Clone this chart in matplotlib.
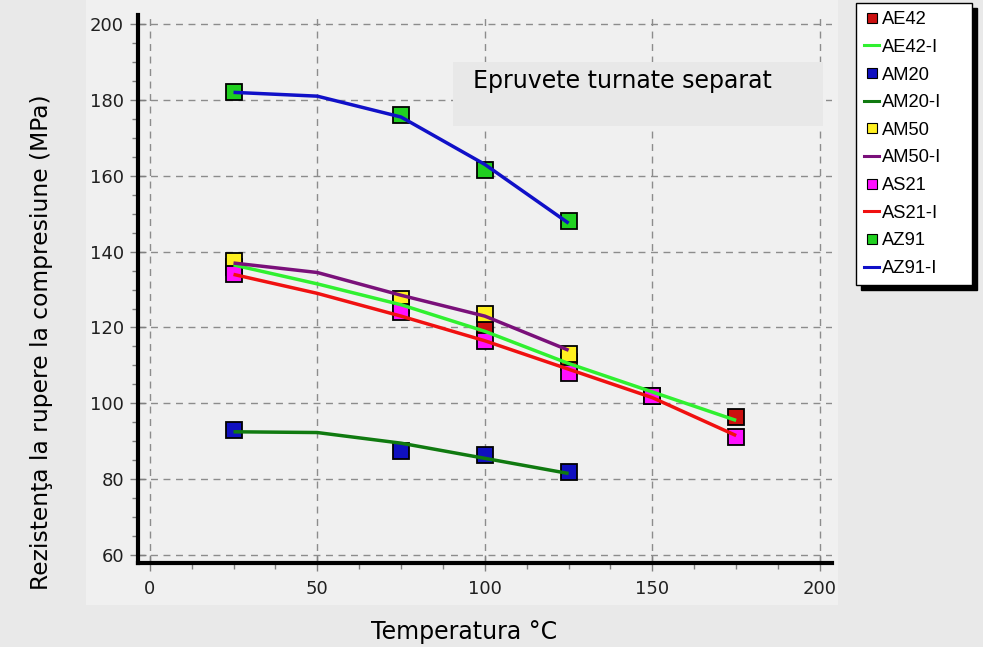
import matplotlib
matplotlib.use("Agg")
import matplotlib.pyplot as plt
from matplotlib.lines import Line2D
from matplotlib.patches import Rectangle
from matplotlib.ticker import MultipleLocator

# ---- data ----------------------------------------------------------------
temp_pts = [25, 75, 100, 125]
temp_pts_long = [25, 75, 100, 125, 150, 175]

ae42 = [136, 126, 120, 111, 102, 96.5]
am20 = [93, 87.5, 86.5, 82]
am50 = [137.5, 127.5, 123.5, 113]
as21 = [134, 124, 116.5, 108, 102, 91]
az91 = [182, 176, 161.5, 148]

temp_fit = [25, 50, 75, 100, 125]
temp_fit_long = [25, 50, 75, 100, 125, 150, 175]
ae42_i = [136.5, 131.5, 126, 119, 110.5, 103, 95.5]
am20_i = [92.5, 92.3, 89.5, 85.5, 81.5]
am50_i = [137, 134.5, 128.5, 123, 114]
as21_i = [134, 129, 123, 116.5, 109, 101.5, 91.5]
az91_i = [182, 181, 175.5, 163, 147.5]

x_ticks = [0, 50, 100, 150, 200]
y_ticks = [60, 80, 100, 120, 140, 160, 180, 200]

# ---- figure ---------------------------------------------------------------
fig = plt.figure(figsize=(9.83, 6.47), dpi=100, facecolor="#E9E9E9")
fig.patches.append(Rectangle((86 / 983, 1 - 605 / 647), (838 - 86) / 983, 605 / 647,
                             transform=fig.transFigure, facecolor="#F0F0F0",
                             edgecolor="none", zorder=-2))

ax = fig.add_axes([138 / 983, 1 - 563 / 647, (832 - 138) / 983, (563 - 15) / 647])
ax.set_facecolor("none")

# markers first, lines on top
marker_series = [
    ("AE42", temp_pts_long, ae42, "#CC1010"),
    ("AM20", temp_pts, am20, "#1010C0"),
    ("AM50", temp_pts, am50, "#FFF020"),
    ("AS21", temp_pts_long, as21, "#FF10FF"),
    ("AZ91", temp_pts, az91, "#20D020"),
]
line_series = [
    ("AE42-I", temp_fit_long, ae42_i, "#30F030"),
    ("AM20-I", temp_fit, am20_i, "#107A10"),
    ("AM50-I", temp_fit, am50_i, "#7A107A"),
    ("AS21-I", temp_fit_long, as21_i, "#F01010"),
    ("AZ91-I", temp_fit, az91_i, "#1010C8"),
]

for name, xs, ys, col in marker_series:
    ax.plot(xs, ys, ls="none", marker="s", ms=11, mfc=col, mec="black",
            mew=1.3, zorder=3)
for name, xs, ys, col in line_series:
    ax.plot(xs, ys, color=col, lw=2.5, zorder=4, solid_capstyle="butt")

ax.set_xlim(-3.5, 203.6)
ax.set_ylim(57.9, 202.4)
ax.set_xticks(x_ticks)
ax.set_yticks(y_ticks)
ax.xaxis.set_minor_locator(MultipleLocator(12.5))
ax.yaxis.set_minor_locator(MultipleLocator(5))
ax.grid(True, which="major", color="#8C8C8C", ls=(0, (5, 4)), lw=1)
ax.set_axisbelow(True)

for s in ("top", "right"):
    ax.spines[s].set_visible(False)
for s in ("left", "bottom"):
    ax.spines[s].set_linewidth(3)
    ax.spines[s].set_color("black")

ax.tick_params(axis="both", which="major", direction="inout", length=12,
               width=1, color="#808080", labelsize=13)
ax.tick_params(axis="y", which="major", pad=4)
ax.tick_params(axis="x", which="major", pad=6)
ax.tick_params(axis="both", which="minor", direction="out", length=4,
               width=1, color="#808080")
for lbl in ax.get_xticklabels() + ax.get_yticklabels():
    lbl.set_fontfamily("DejaVu Sans")
    lbl.set_color("#202020")

fig.text(42 / 983, 1 - 342 / 647, "Rezistenţa la rupere la compresiune (MPa)",
         rotation=90, ha="center", va="center", fontsize=16.8,
         family="DejaVu Sans")
fig.text(464 / 983, 1 - 632 / 647, "Temperatura °C", ha="center", va="center",
         fontsize=17, family="DejaVu Sans")

# annotation box
fig.patches.append(Rectangle((453 / 983, 1 - 126 / 647), (823 - 453) / 983, 64 / 647,
                             transform=fig.transFigure, facecolor="#E8E8E8",
                             edgecolor="none", zorder=1))
fig.text(473 / 983, 1 - 81 / 647, "Epruvete turnate separat", ha="left",
         va="center", fontsize=17, family="DejaVu Sans", zorder=5)

# legend
handles = []
labels = []
for (mname, _, _, mcol), (lname, _, _, lcol) in zip(marker_series, line_series):
    handles.append(Line2D([], [], ls="none", marker="s", ms=6.5, mfc=mcol,
                          mec="black", mew=0.8))
    labels.append(mname)
    handles.append(Line2D([], [], color=lcol, lw=2.2))
    labels.append(lname)

leg = fig.legend(handles, labels, loc="upper left", mode="expand",
                 bbox_to_anchor=(856 / 983, 0.5, 116 / 983, 0.5 - 3 / 647),
                 frameon=True, fancybox=False,
                 shadow={"color": "black", "alpha": 1, "ox": 3.5, "oy": -3.5},
                 handlelength=0.8, handletextpad=0.15, labelspacing=0.58,
                 borderpad=0.45, borderaxespad=0,
                 prop={"family": "Liberation Sans", "size": 13.2})
leg.get_frame().set_edgecolor("black")
leg.get_frame().set_linewidth(1)
leg.get_frame().set_facecolor("white")

fig.savefig("out.png", dpi=100, facecolor=fig.get_facecolor())
